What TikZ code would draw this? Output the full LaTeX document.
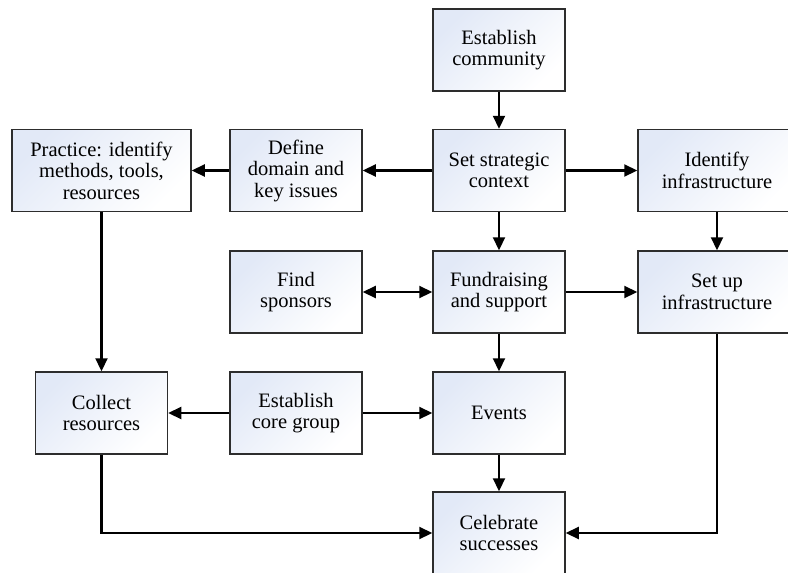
\documentclass[tikz,border=0pt]{standalone}
\usepackage{fontspec}
\usetikzlibrary{arrows.meta}
\newfontfamily\boxfont{Liberation Serif}
\definecolor{boxblue}{RGB}{226,233,247}
\definecolor{edge}{RGB}{45,45,45}
\tikzset{
  box/.style={draw=edge, line width=1.5pt, top color=boxblue, bottom color=white,
    shading angle=45, minimum height=82pt, minimum width=132pt, align=center,
    inner sep=2pt, font={\boxfont\fontsize{20.5}{21.5}\selectfont}},
  widebox/.style={box, minimum width=158pt},
  arr/.style={line width=2.2pt, -{Triangle[length=13pt,width=12pt]}},
  darr/.style={line width=2.2pt, {Triangle[length=13pt,width=12pt]}-{Triangle[length=13pt,width=12pt]}}
}
\begin{document}
\begin{tikzpicture}[x=1pt,y=-1pt]
\useasboundingbox (0,0) rectangle (788,573);
\clip (0,0) rectangle (788,573);
\fill[white] (0,0) rectangle (788,573);
\node[box] (estab) at (499,50) {Establish\\community};
\node[box, minimum width=179pt] (practice) at (101.5,170.5) {Practice: identify\\methods, tools,\\resources};
\node[box] (define) at (296,170.5) {Define\\domain and\\key issues};
\node[box] (strat) at (499,170.5) {Set strategic\\context};
\node[widebox] (ident) at (717,170.5) {Identify\\infrastructure};
\node[box] (sponsors) at (296,292) {Find\\sponsors};
\node[box] (fund) at (499,292) {Fundraising\\and support};
\node[widebox] (setup) at (717,292) {Set up\\infrastructure};
\node[box] (collect) at (101.5,413) {Collect\\resources};
\node[box] (core) at (296,413) {Establish\\core group};
\node[box] (events) at (499,413) {Events};
\node[box] (celeb) at (499,533) {Celebrate\\successes};
\draw[arr] (estab) -- (strat);
\draw[arr] (strat) -- (define);
\draw[arr] (define) -- (practice);
\draw[arr] (strat) -- (ident);
\draw[arr] (strat) -- (fund);
\draw[arr] (ident) -- (setup);
\draw[darr] (sponsors) -- (fund);
\draw[arr] (fund) -- (setup);
\draw[arr] (fund) -- (events);
\draw[arr] (practice) -- (collect);
\draw[arr] (core) -- (collect);
\draw[arr] (core) -- (events);
\draw[arr] (events) -- (celeb);
\draw[arr] (collect.south) |- (celeb.west);
\draw[arr] (setup.south) |- (celeb.east);
\end{tikzpicture}
\end{document}
